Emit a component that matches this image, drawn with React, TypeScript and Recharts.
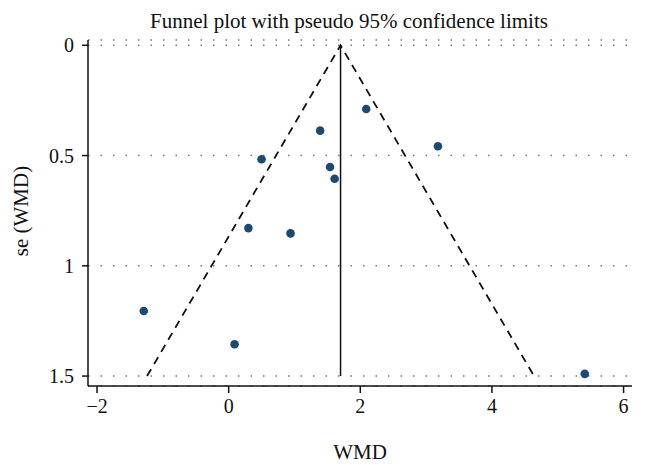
import {
  CartesianGrid,
  ReferenceLine,
  Scatter,
  ScatterChart,
  XAxis,
  YAxis
} from "recharts";

const effects = [2.09, 1.39, 3.18, 0.5, 1.54, 1.61, 0.3, 0.94, -1.29, 0.09, 5.41];
const stdErrors = [0.289, 0.387, 0.458, 0.517, 0.552, 0.605, 0.829, 0.853, 1.205, 1.356, 1.49];
const xTicks = [-2, 0, 2, 4, 6];
const yTicks = [0, 0.5, 1, 1.5];

const pooled = 1.7;
const seMax = 1.5;
const z95 = 1.96;

const studies = effects.map((x, i) => ({ x, y: stdErrors[i] }));
const funnel = [
  { x: pooled - z95 * seMax, y: seMax },
  { x: pooled, y: 0 },
  { x: pooled + z95 * seMax, y: seMax }
];

const serif = "'Liberation Serif', 'DejaVu Serif', serif";
const fmt = (v: number) => (v < 0 ? `\u2212${Math.abs(v)}` : `${v}`);

export default function App() {
  return (
    <div style={{ position: "absolute", left: 0, top: 0, width: 646, height: 465, background: "#fff", overflow: "hidden" }}>
      <ScatterChart
        width={646}
        height={465}
        margin={{ top: 40, right: 14, bottom: 39, left: 28 }}
        style={{ fontFamily: serif }}
      >
        <text x={349} y={28} textAnchor="middle" fontSize={21} fill="#111" fontFamily={serif}>
          Funnel plot with pseudo 95% confidence limits
        </text>
        <text x={360} y={459} textAnchor="middle" fontSize={21} fill="#111" fontFamily={serif}>
          WMD
        </text>
        <text
          x={21}
          y={211}
          textAnchor="middle"
          dominantBaseline="central"
          transform="rotate(-90, 21, 211)"
          fontSize={21}
          fill="#111"
          fontFamily={serif}
        >
          se (WMD)
        </text>
        <CartesianGrid vertical={false} stroke="#777" strokeWidth={1.5} strokeDasharray="1.5 11" />
        <XAxis
          type="number"
          dataKey="x"
          domain={[-2.137, 6.128]}
          ticks={xTicks}
          tickFormatter={fmt}
          allowDataOverflow
          height={40}
          stroke="#111"
          strokeWidth={1.5}
          tickSize={7}
          tickMargin={6}
          tick={{ fill: "#111", fontSize: 20, fontFamily: serif }}
        />
        <YAxis
          type="number"
          dataKey="y"
          reversed
          domain={[-0.024, 1.545]}
          ticks={yTicks}
          allowDataOverflow
          width={60}
          stroke="#111"
          strokeWidth={1.5}
          tickSize={6}
          tickMargin={8}
          tick={{ fill: "#111", fontSize: 20, fontFamily: serif }}
        />
        <ReferenceLine
          segment={[{ x: pooled, y: 0 }, { x: pooled, y: seMax }]}
          stroke="#111"
          strokeWidth={1.5}
        />
        <Scatter
          data={funnel}
          line={{ stroke: "#111", strokeWidth: 1.8, strokeDasharray: "8 6" }}
          shape={() => null}
          isAnimationActive={false}
        />
        <Scatter
          data={studies}
          fill="#1d4a75"
          shape={(p: any) => <circle cx={p.cx} cy={p.cy} r={4.3} fill="#1d4a75" />}
          isAnimationActive={false}
        />
      </ScatterChart>
    </div>
  );
}
